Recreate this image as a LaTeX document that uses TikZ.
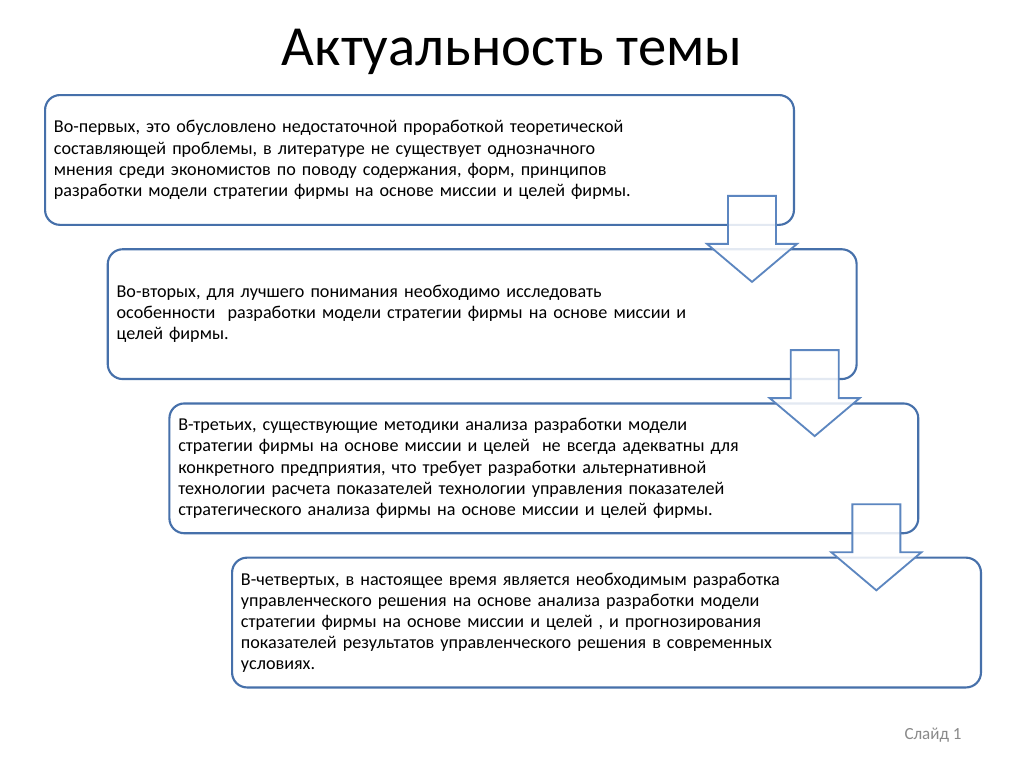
\documentclass[tikz,border=0pt]{standalone}
\usepackage{fontspec}
\setmainfont{Carlito}
\usepackage{tikz}
\usetikzlibrary{positioning,calc}
\definecolor{boxblue}{RGB}{70,112,170}
\definecolor{arrowblue}{RGB}{92,134,192}
\definecolor{footgray}{RGB}{137,137,137}

\begin{document}
\begin{tikzpicture}[x=0.0248047cm,y=-0.0248047cm,
box/.style={draw=boxblue,line width=1.5pt,rounded corners=0.37cm,fill=white,
    rectangle,minimum height=3.22cm,text width=18.14cm,inner xsep=0.22cm,
    align=left,anchor=north west,font=\fontsize{12.8}{14.9}\selectfont},
downarrow/.pic={
    \draw[draw=arrowblue,line width=1.3pt,fill=white,fill opacity=0.85,line join=miter]
    (-24,0) -- (24,0) -- (24,48) -- (45,48) -- (0,86) -- (-45,48) -- (-24,48) -- cycle;}]
\useasboundingbox (0,0) rectangle (1024,768);
\fill[white] (0,0) rectangle (1024,768);

\node (title) at (512,52) {\fontsize{40}{48}\selectfont Актуальность темы};

\node (first) [box] at (44,94) {Во-первых, это обусловлено недостаточной проработкой теоретической\\
составляющей проблемы, в литературе не существует однозначного\\
мнения среди экономистов по поводу содержания, форм, принципов\\
разработки модели стратегии фирмы на основе миссии и целей фирмы.};

\node (second) [box,below=0.553cm of first.south west,anchor=north west,xshift=1.555cm] {Во-вторых, для лучшего понимания необходимо исследовать\\
особенности\ \ разработки модели стратегии фирмы на основе миссии и\\
целей фирмы.};

\node (third) [box,below=0.553cm of second.south west,anchor=north west,xshift=1.53cm] {В-третьих, существующие методики анализа разработки модели\\
стратегии фирмы на основе миссии и целей\ \ не всегда адекватны для\\
конкретного предприятия, что требует разработки альтернативной\\
технологии расчета показателей технологии управления показателей\\
стратегического анализа фирмы на основе миссии и целей фирмы.};

\node (fourth) [box,below=0.553cm of third.south west,anchor=north west,xshift=1.555cm] {В-четвертых, в настоящее время является необходимым разработка\\
управленческого решения на основе анализа разработки модели\\
стратегии фирмы на основе миссии и целей , и прогнозирования\\
показателей результатов управленческого решения в современных\\
условиях.};

% arrows between the boxes
\pic at ($(first.south east)+(-43,-30)$) {downarrow};
\pic at ($(second.south east)+(-43,-30)$) {downarrow};
\pic at ($(third.south east)+(-43,-30)$) {downarrow};

\node (slide) [text=footgray,font=\fontsize{12}{14.6}\selectfont] at (933,735) {Слайд 1};
\end{tikzpicture}
\end{document}
